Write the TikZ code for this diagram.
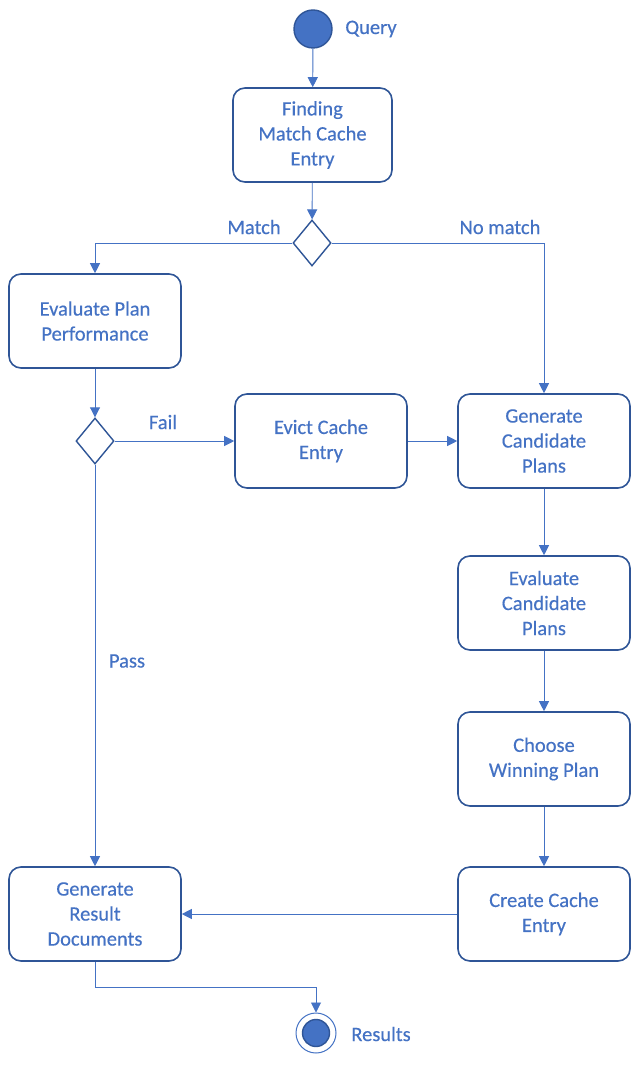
\documentclass[tikz,border=0pt]{standalone}
\usepackage{fontspec}
\setmainfont{Carlito}[FakeBold=0.35]
\usetikzlibrary{arrows.meta,shapes.geometric}
\definecolor{txtblue}{HTML}{4472C4}
\definecolor{edgeblue}{HTML}{2F5597}
\begin{document}
\begin{tikzpicture}[x=1pt,y=-1pt,
  every node/.style={font=\fontsize{20.5}{25}\selectfont, text=txtblue},
  act/.style={draw=edgeblue, line width=1.6pt, rounded corners=12pt, fill=white,
    minimum width=172pt, minimum height=94pt, align=center, inner sep=2pt},
  dec/.style={draw=edgeblue, line width=1.4pt, diamond, fill=white,
    minimum width=38pt, minimum height=46pt, inner sep=0pt, aspect=0.8},
  lbl/.style={inner sep=0pt},
  flow/.style={draw=txtblue, line width=0.9pt, -{Triangle[length=10pt,width=10pt]}},
  plain/.style={draw=txtblue, line width=0.9pt}
]
\useasboundingbox (0,0) rectangle (640,1067);
\fill[white] (0,0) rectangle (640,1067);

% start
\node[circle, draw=edgeblue, line width=1.4pt, fill=txtblue, minimum size=38pt, inner sep=0pt] (start) at (313,29) {};
\node[lbl] (qlab) at (371,29) {Query};

\node[act, minimum width=159pt] (find) at (312.5,135) {Finding\\Match Cache\\Entry};
\node[dec, minimum width=38pt, minimum height=46pt] (d1) at (312,243) {};
\node[lbl] (mlab) at (254,227) {Match};
\node[lbl] (nmlab) at (500,227) {No match};

\node[act] (evalp) at (95,321) {Evaluate Plan\\Performance};
\node[dec] (d2) at (95,441) {};
\node[lbl] (flab) at (163,422) {Fail};
\node[lbl] (plab) at (127,661) {Pass};

\node[act] (evict) at (321,441) {Evict Cache\\Entry};
\node[act] (gencand) at (544,441) {Generate\\Candidate\\Plans};
\node[act] (evcand) at (544,603) {Evaluate\\Candidate\\Plans};
\node[act] (choose) at (544,759) {Choose\\Winning Plan};
\node[act] (create) at (544,914) {Create Cache\\Entry};
\node[act] (genres) at (95,914) {Generate\\Result\\Documents};

% end
\node[circle, draw=txtblue, line width=1pt, fill=white, minimum size=40pt, inner sep=0pt] (endo) at (316,1033) {};
\node[circle, draw=edgeblue, line width=1.4pt, fill=txtblue, minimum size=27pt, inner sep=0pt] (endi) at (316,1033) {};
\node[lbl] (rlab) at (381,1034) {Results};

% connectors
\draw[flow] (start) -- (find);
\draw[flow] (find) -- (d1);
\draw[flow] (d1.west) -| (evalp.north);
\draw[flow] (d1.east) -| (gencand.north);
\draw[flow] (evalp) -- (d2);
\draw[flow] (d2.east) -- (d2.east -| evict.west);
\draw[flow] (evict.east) -- (evict.east -| gencand.west);
\draw[flow] (d2.south) -- (genres.north);
\draw[flow] (gencand) -- (evcand);
\draw[flow] (evcand) -- (choose);
\draw[flow] (choose) -- (create);
\draw[flow] (create.west) -- (genres.east);
\coordinate (bend) at (95,987);
\draw[flow] (genres.south) -- (bend) -| (endo.north);
\end{tikzpicture}
\end{document}
